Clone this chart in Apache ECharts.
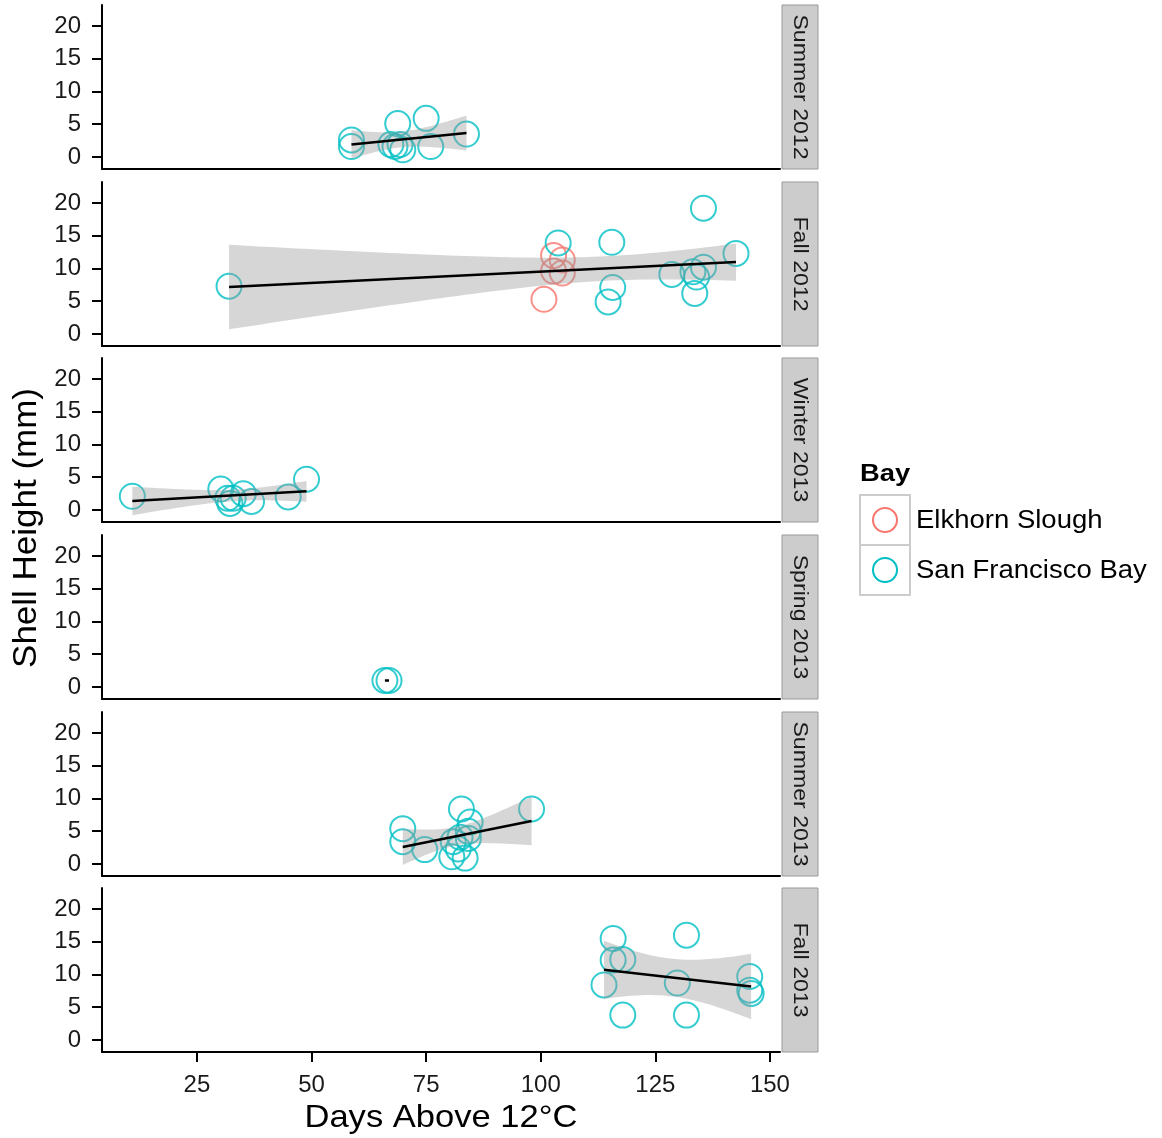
<!DOCTYPE html>
<html>
<head>
<meta charset="utf-8">
<script src="https://cdn.jsdelivr.net/npm/echarts@6/dist/echarts.min.js"></script>
<style>
  html, body { margin: 0; padding: 0; background: #fff; }
  #main { width: 1162px; height: 1138px; }
</style>
</head>
<body>
<div id="main"></div>
<script>
// facets, top to bottom
const seasons = ['Summer 2012', 'Fall 2012', 'Winter 2013', 'Spring 2013', 'Summer 2013', 'Fall 2013'];
const bays = ['Elkhorn Slough', 'San Francisco Bay'];
const bayColors = ['#F8766D', '#00BFC4'];

// San Francisco Bay: days above 12°C and shell height (mm), one list per season
const sfDays = [
  [58.7, 58.7, 68.8, 75.0, 83.8, 67.3, 68.2, 69.3, 69.9, 76.0],
  [32.0, 103.8, 115.5, 115.7, 114.7, 135.5, 142.6, 128.6, 133.2, 135.5, 134.0, 133.6],
  [10.9, 48.9, 30.2, 31.7, 32.2, 35.1, 36.9, 44.9, 32.9],
  [66.0, 66.9],
  [69.9, 69.9, 74.7, 82.7, 84.6, 84.2, 80.9, 82.4, 84.2, 80.6, 83.5, 98.0, 82.0],
  [115.8, 131.8, 115.8, 117.9, 113.8, 129.8, 117.9, 131.8, 145.6, 145.6, 145.9]
];
const sfHeight = [
  [2.6, 1.6, 5.1, 5.9, 3.5, 1.9, 1.6, 1.9, 1.1, 1.6],
  [7.3, 13.9, 14.0, 7.1, 4.9, 19.2, 12.3, 9.1, 9.5, 10.2, 8.7, 6.2],
  [2.1, 4.7, 3.2, 1.8, 1.0, 2.5, 1.3, 2.0, 1.8],
  [1.0, 1.0],
  [5.4, 3.4, 2.2, 8.4, 6.4, 5.0, 3.4, 4.1, 3.9, 1.1, 0.9, 8.4, 2.3],
  [15.5, 16.0, 12.2, 12.3, 8.4, 8.7, 3.8, 3.8, 9.7, 7.6, 7.1]
];

// Elkhorn Slough: only sampled in Fall 2012
const esDays = [[], [100.7, 102.8, 104.7, 102.8, 104.7], [], [], [], []];
const esHeight = [[], [5.3, 12.0, 11.3, 9.6, 9.3], [], [], [], []];

const yTicks = [0, 5, 10, 15, 20];
const xTicks = [25, 50, 75, 100, 125, 150];

// 97.5% t quantiles by degrees of freedom
const tq = [NaN, 12.706, 4.303, 3.182, 2.776, 2.571, 2.447, 2.365, 2.306, 2.262, 2.228,
  2.201, 2.179, 2.160, 2.145, 2.131, 2.120, 2.110, 2.101, 2.093, 2.086];

// lm fit with 95% confidence band
function fit(xs, ys) {
  const n = xs.length;
  const mx = xs.reduce((a, b) => a + b, 0) / n;
  const my = ys.reduce((a, b) => a + b, 0) / n;
  let sxx = 0, sxy = 0;
  xs.forEach((x, i) => { sxx += (x - mx) ** 2; sxy += (x - mx) * (ys[i] - my); });
  const b = sxx ? sxy / sxx : 0;
  const a = my - b * mx;
  const x0 = Math.min(...xs), x1 = Math.max(...xs);
  const line = [[x0, a + b * x0], [x1, a + b * x1]];
  const df = n - 2;
  if (df < 1) return { line, band: null };
  let ssr = 0;
  xs.forEach((x, i) => { ssr += (ys[i] - a - b * x) ** 2; });
  const s = Math.sqrt(ssr / df);
  const t = tq[Math.min(df, tq.length - 1)];
  const up = [], lo = [];
  for (let k = 0; k <= 60; k++) {
    const x = x0 + (x1 - x0) * k / 60;
    const yh = a + b * x;
    const w = t * s * Math.sqrt(1 / n + (x - mx) ** 2 / sxx);
    up.push([x, yh + w]);
    lo.push([x, yh - w]);
  }
  return { line, band: up.concat(lo.reverse()) };
}

const font = "'Liberation Sans', Arial, sans-serif";
const tops = [5, 182, 358, 535, 712, 888];
const panelH = 164;
const gridLeft = 102, gridRight = 780;

const grids = [], xAxes = [], yAxes = [], series = [], graphics = [];

seasons.forEach((name, i) => {
  const last = i === seasons.length - 1;
  grids.push({ left: gridLeft, width: gridRight - gridLeft, top: tops[i], height: panelH });
  xAxes.push({
    gridIndex: i, type: 'value', min: 4.28, max: 152.2,
    axisLine: { show: true, onZero: false, lineStyle: { color: '#000', width: 2 } },
    axisTick: { show: last, length: 10, customValues: xTicks, lineStyle: { color: '#000', width: 2 } },
    axisLabel: { show: last, customValues: xTicks, fontSize: 24, color: '#1a1a1a', fontFamily: font, margin: 21 },
    splitLine: { show: false }
  });
  yAxes.push({
    gridIndex: i, type: 'value', min: -1.83, max: 23.2,
    axisLine: { show: true, onZero: false, lineStyle: { color: '#000', width: 2 } },
    axisTick: { show: true, length: 10, customValues: yTicks, lineStyle: { color: '#000', width: 2 } },
    axisLabel: { customValues: yTicks, fontSize: 24, color: '#1a1a1a', fontFamily: font, margin: 21 },
    splitLine: { show: false }
  });

  const groups = [[esDays[i], esHeight[i]], [sfDays[i], sfHeight[i]]];
  groups.forEach((g, b) => {
    series.push({
      type: 'scatter', name: bays[b], xAxisIndex: i, yAxisIndex: i,
      data: g[0].map((x, k) => [x, g[1][k]]),
      symbol: 'circle', symbolSize: 25, z: 2, silent: true,
      itemStyle: { color: 'rgba(0,0,0,0)', borderColor: bayColors[b], borderWidth: 2 }
    });
  });

  const xs = sfDays[i].concat(esDays[i]);
  const ys = sfHeight[i].concat(esHeight[i]);
  const f = fit(xs, ys);
  if (f.band) {
    const pts = f.band;
    series.push({
      type: 'custom', xAxisIndex: i, yAxisIndex: i, z: 3, silent: true,
      data: [pts[0]],
      renderItem: (params, api) => ({
        type: 'polygon',
        shape: { points: pts.map(p => api.coord(p)) },
        style: { fill: 'rgba(153,153,153,0.4)' }
      })
    });
  }
  series.push({
    type: 'line', xAxisIndex: i, yAxisIndex: i, z: 4, silent: true,
    data: f.line, showSymbol: false,
    lineStyle: { color: '#000', width: 2.5 }
  });

  // facet strip
  graphics.push({
    type: 'rect', shape: { x: 782, y: tops[i], width: 36, height: panelH },
    style: { fill: '#cccccc', stroke: '#999999', lineWidth: 1 }
  });
  graphics.push({
    type: 'text', x: 800, y: tops[i] + panelH / 2, rotation: -Math.PI / 2, scaleX: 1.1,
    style: { text: name, font: '21px ' + font, fill: '#1a1a1a', align: 'center', verticalAlign: 'middle' }
  });
});

// axis titles
graphics.push({
  type: 'text', x: 27, y: 528, rotation: Math.PI / 2, scaleX: 1.06,
  style: { text: 'Shell Height (mm)', font: '33px ' + font, fill: '#000', align: 'center', verticalAlign: 'middle' }
});
graphics.push({
  type: 'text', x: 441, y: 1118, scaleX: 1.08,
  style: { text: 'Days Above 12°C', font: '32px ' + font, fill: '#000', align: 'center', verticalAlign: 'middle' }
});

// legend
graphics.push({
  type: 'text', x: 860, y: 474, scaleX: 1.14,
  style: { text: 'Bay', font: 'bold 24px ' + font, fill: '#000', align: 'left', verticalAlign: 'middle' }
});
bays.forEach((b, k) => {
  const y0 = 495 + k * 50;
  graphics.push({
    type: 'rect', shape: { x: 860, y: y0, width: 50, height: 50 },
    style: { fill: '#fff', stroke: '#cccccc', lineWidth: 2 }
  });
  graphics.push({
    type: 'circle', shape: { cx: 885, cy: y0 + 25, r: 12 },
    style: { fill: 'none', stroke: bayColors[k], lineWidth: 2 }
  });
  graphics.push({
    type: 'text', x: 916, y: y0 + 26, scaleX: 1.1,
    style: { text: b, font: '25px ' + font, fill: '#000', align: 'left', verticalAlign: 'middle' }
  });
});

const chart = echarts.init(document.getElementById('main'), null, { renderer: 'canvas' });
chart.setOption({
  animation: false,
  backgroundColor: '#fff',
  grid: grids,
  xAxis: xAxes,
  yAxis: yAxes,
  series: series,
  graphic: graphics
});
</script>
</body>
</html>
